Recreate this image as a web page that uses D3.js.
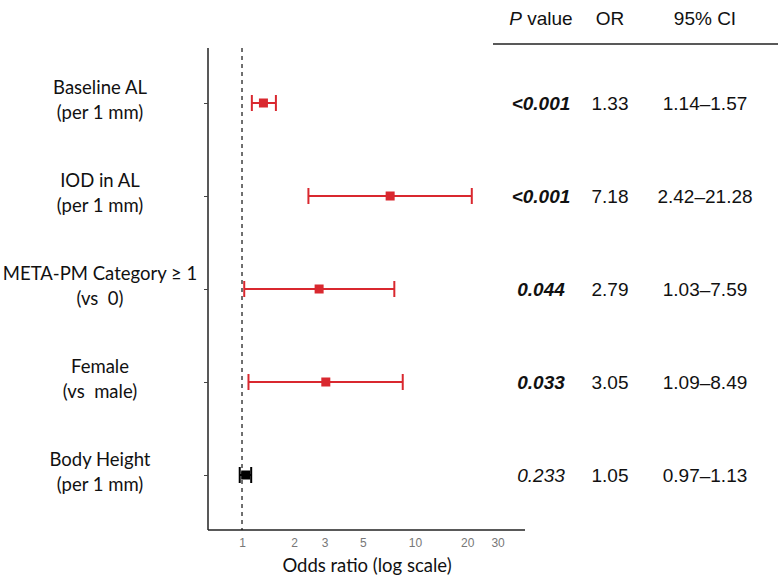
<!DOCTYPE html>
<html><head><meta charset="utf-8">
<script src="https://cdn.jsdelivr.net/npm/d3@7"></script>
<style>body{margin:0;background:#fff} text{white-space:pre}</style>
</head><body>
<svg id="chart" width="780" height="576"></svg>
<script>
const labelLine1 = ["Baseline AL", "IOD in AL", "META-PM Category \u2265 1", "Female", "Body Height"];
const labelLine2 = ["(per 1 mm)", "(per 1 mm)", "(vs  0)", "(vs  male)", "(per 1 mm)"];
const orValues = [1.33, 7.18, 2.79, 3.05, 1.05];
const ciLow = [1.14, 2.42, 1.03, 1.09, 0.97];
const ciHigh = [1.57, 21.28, 7.59, 8.49, 1.13];
const pValues = ["<0.001", "<0.001", "0.044", "0.033", "0.233"];
const pSignificant = [true, true, true, true, false];
const orText = ["1.33", "7.18", "2.79", "3.05", "1.05"];
const ciText = ["1.14\u20131.57", "2.42\u201321.28", "1.03\u20137.59", "1.09\u20138.49", "0.97\u20131.13"];
const xTicks = [1, 2, 3, 5, 10, 20, 30];
const headers = ["P value", "OR", "95% CI"];

const svg = d3.select("#chart");
const red = "#d9282f";
const plotLeft = 208, plotRight = 525, plotTop = 48, plotBottom = 530;

const x = d3.scaleLog().domain([0.636, 43.2]).range([plotLeft, plotRight]);
const y = d3.scalePoint().domain(d3.range(labelLine1.length)).range([103, 475]);

// axes
const xAxis = d3.axisBottom(x).tickValues(xTicks).tickFormat(d3.format("d")).tickSize(0).tickPadding(8);
const gx = svg.append("g").attr("transform", `translate(0,${plotBottom})`).call(xAxis);
gx.select(".domain").attr("stroke", "#222").attr("stroke-width", 1.5).attr("d", `M${plotLeft},0H${plotRight}`);
gx.selectAll("text").attr("fill", "#777").attr("font-family", "Liberation Sans, Arial, sans-serif").attr("font-size", 12);

const yAxis = d3.axisLeft(y).tickSize(4).tickFormat("");
const gy = svg.append("g").attr("transform", `translate(${plotLeft},0)`).call(yAxis);
gy.select(".domain").attr("stroke", "#222").attr("stroke-width", 1.5).attr("d", `M0,${plotTop}V${plotBottom}`);
gy.selectAll(".tick line").attr("stroke", "#444");

// reference line
svg.append("line").attr("x1", x(1)).attr("x2", x(1)).attr("y1", plotTop).attr("y2", plotBottom)
  .attr("stroke", "#111").attr("stroke-width", 1.2).attr("stroke-dasharray", "4,4");

// axis title
svg.append("text").attr("x", 367).attr("y", 572).attr("text-anchor", "middle")
  .attr("font-family", "Lato, sans-serif").attr("font-size", 18.5).attr("fill", "#111")
  .text("Odds ratio (log scale)");

// row labels
const lbl = svg.append("g").attr("font-family", "Lato, sans-serif").attr("font-size", 18.5).attr("fill", "#111").attr("text-anchor", "middle");
labelLine1.forEach((t, i) => {
  lbl.append("text").attr("x", 100).attr("y", y(i) - 9).text(t);
  lbl.append("text").attr("x", 100).attr("y", y(i) + 16).text(labelLine2[i]);
});

// error bars
const rows = svg.append("g");
orValues.forEach((v, i) => {
  const c = pSignificant[i] ? red : "#000";
  const g = rows.append("g");
  g.append("line").attr("x1", x(ciLow[i])).attr("x2", x(ciHigh[i])).attr("y1", y(i)).attr("y2", y(i)).attr("stroke", c).attr("stroke-width", 2);
  [ciLow[i], ciHigh[i]].forEach(e => {
    g.append("line").attr("x1", x(e)).attr("x2", x(e)).attr("y1", y(i) - 8).attr("y2", y(i) + 8).attr("stroke", c).attr("stroke-width", 2);
  });
  g.append("rect").attr("x", x(v) - 4.5).attr("y", y(i) - 4.5).attr("width", 9).attr("height", 9).attr("fill", c);
});

// table
const tf = "Liberation Sans, Arial, sans-serif";
const colX = [541, 610, 705];
const hdr = svg.append("g").attr("font-family", tf).attr("font-size", 19).attr("fill", "#111").attr("text-anchor", "middle");
const ph = hdr.append("text").attr("x", colX[0]).attr("y", 25);
ph.append("tspan").attr("font-style", "italic").text("P");
ph.append("tspan").text(" value");
hdr.append("text").attr("x", colX[1]).attr("y", 25).text(headers[1]);
hdr.append("text").attr("x", colX[2]).attr("y", 25).text(headers[2]);
svg.append("line").attr("x1", 493).attr("x2", 778).attr("y1", 44).attr("y2", 44).attr("stroke", "#222").attr("stroke-width", 1.5);

const tb = svg.append("g").attr("font-family", tf).attr("font-size", 19).attr("fill", "#111").attr("text-anchor", "middle");
pValues.forEach((p, i) => {
  tb.append("text").attr("x", colX[0]).attr("y", y(i) + 7).attr("font-style", "italic")
    .attr("font-weight", pSignificant[i] ? "bold" : "normal").text(p);
  tb.append("text").attr("x", colX[1]).attr("y", y(i) + 7).text(orText[i]);
  tb.append("text").attr("x", colX[2]).attr("y", y(i) + 7).text(ciText[i]);
});
</script>
</body></html>
